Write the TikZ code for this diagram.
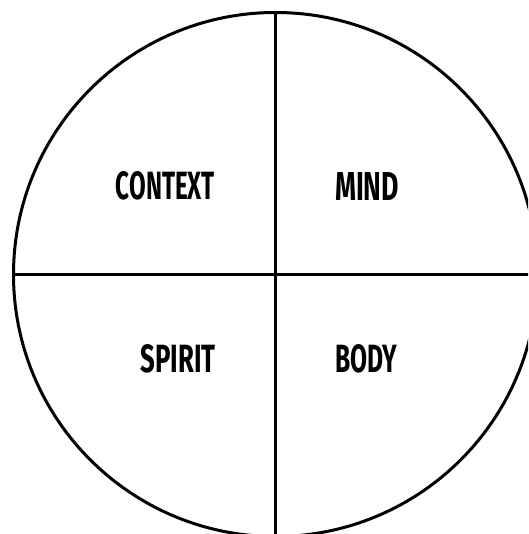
\documentclass[tikz,border=0pt]{standalone}
\usepackage{fontspec}
\setmainfont{Fira Sans}
\newfontfamily\labelfont{Fira Sans}[BoldFont={Fira Sans Bold}]
\tikzset{
  ring/.style={line width=3pt, draw=black},
  divider/.style={line width=3pt, draw=black},
  quadlabel/.style={inner sep=0pt, font=\labelfont\bfseries}
}
\begin{document}
\begin{tikzpicture}[x=1pt,y=-1pt]
\useasboundingbox (0,0) rectangle (528,534);
\clip (0,0) rectangle (528,534);
\fill[white] (0,0) rectangle (528,534);
\coordinate (c) at (275.5,274.5);
\draw[ring] (c) circle[radius=262];
\coordinate (top) at (275.5,12.5);
\coordinate (bot) at (275.5,540);
\coordinate (left) at (13.5,274.5);
\coordinate (right) at (540,274.5);
\draw[divider] (top) -- (bot);
\draw[divider] (left) -- (right);
\node[quadlabel] (context) at (165.5,186) {\resizebox{99pt}{28pt}{CONTEXT}};
\node[quadlabel] (mind) at (367,186) {\resizebox{64pt}{28pt}{MIND}};
\node[quadlabel] (spirit) at (178,359) {\resizebox{75pt}{28pt}{SPIRIT}};
\node[quadlabel] (body) at (366,359) {\resizebox{62pt}{28pt}{BODY}};
\end{tikzpicture}
\end{document}
